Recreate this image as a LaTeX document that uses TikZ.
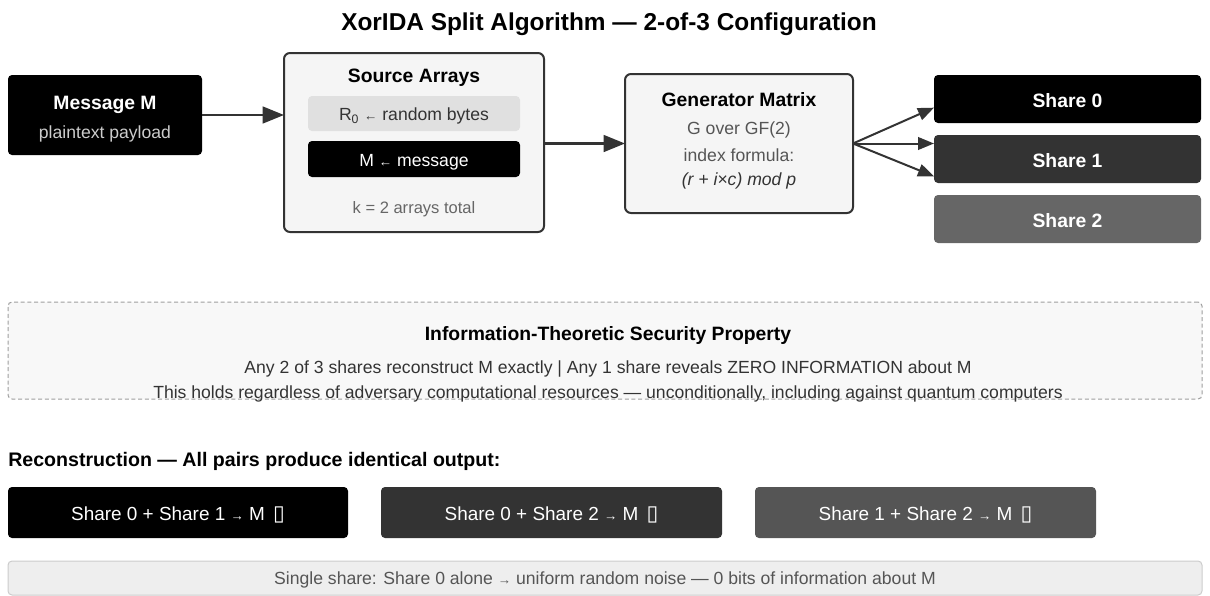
\documentclass[tikz,border=0pt]{standalone}
\usepackage{fontspec}
\setmainfont{Liberation Sans}
\newfontfamily\symfont{DejaVu Sans}
\usetikzlibrary{arrows.meta,fit,calc}

\definecolor{ink}{HTML}{000000}
\definecolor{dark}{HTML}{333333}
\definecolor{mid}{HTML}{555555}
\definecolor{grey}{HTML}{666666}
\definecolor{panel}{HTML}{F5F5F5}
\definecolor{rowgrey}{HTML}{E0E0E0}
\definecolor{softpanel}{HTML}{F8F8F8}
\definecolor{notepanel}{HTML}{EEEEEE}

\newcommand{\fs}[1]{\fontsize{#1}{#1}\selectfont}
\newcommand{\okmark}{\hspace{0.15em}{\symfont\fs{16}\char"25AF}}

\begin{document}
\begin{tikzpicture}[x=0.75pt,y=-0.75pt,
  area/.style={inner sep=0pt,outer sep=0pt,rounded corners=3pt},
  darkbox/.style={area,fill=#1},
  panelbox/.style={area,fill=panel,draw=dark,line width=1.5pt,rounded corners=4.5pt},
  txt/.style={inner sep=0pt,anchor=center,yshift=-1.5pt},
  title/.style={txt,font=\bfseries\fs{14.5}},
  body/.style={txt,font=\fs{13.2}},
  pairtxt/.style={txt,text=white,font=\fs{14.2}},
  flow/.style={draw=dark,line width=1.9pt,-{Triangle[length=16pt,width=12.5pt]}},
  fan/.style={draw=dark,line width=1.5pt,-{Triangle[length=12pt,width=9.5pt]}}
]
\useasboundingbox (0,0) rectangle (1210,596);

% heading
\node[txt,font=\bfseries\fs{18.3}] (head) at (609,22) {XorIDA Split Algorithm — 2-of-3 Configuration};

% message
\node[darkbox=ink,fit={(8,75)(202,155)}] (msg) {};
\node[title,text=white] (msgT) at (105,103) {Message M};
\node[body,text=ink!20] (msgS) at (105,132) {plaintext payload};

% source arrays
\node[panelbox,fit={(284,53)(544,232)}] (src) {};
\node[title] (srcT) at (414,76) {Source Arrays};
\node[area,fill=rowgrey,fit={(308,96)(520,131)}] (rrow) {};
\node[body,text=dark] (rrowT) at (414,114) {R\textsubscript{0} {\fs{10}←} random bytes};
\node[area,fill=ink,fit={(308,141)(520,177)}] (mrow) {};
\node[body,text=white] (mrowT) at (414,160) {M {\fs{10}←} message};
\node[txt,font=\fs{12.4},text=grey] (srcK) at (414,207) {k = 2 arrays total};

% generator matrix
\node[panelbox,fit={(625,74)(853,213)}] (gen) {};
\node[title] (genT) at (739,98) {Generator Matrix};
\node[body,text=mid] (genA) at (739,128) {G over GF(2)};
\node[body,text=mid] (genB) at (739,153) {index formula:};
\node[body,text=dark,font=\itshape\fs{13.2}] (genC) at (739,179) {(r + i×c) mod p};

% shares
\node[darkbox=ink,fit={(934,75)(1201,123)}] (s0) {};
\node[title,text=white] at (s0.center) (s0T) {Share 0};
\node[darkbox=dark,fit={(934,135)(1201,183)}] (s1) {};
\node[title,text=white] at (s1.center) (s1T) {Share 1};
\node[darkbox=grey,fit={(934,195)(1201,243)}] (s2) {};
\node[title,text=white] at (s2.center) (s2T) {Share 2};

% connectors
\draw[flow] (msg.east) -- (src.west |- msg.east);
\draw[flow] (src.east |- gen.west) -- (gen.west);
\draw[fan] (gen.east) -- ([yshift=-6.5pt]s0.west);
\draw[fan] (gen.east) -- (s1.west |- gen.east);
\draw[fan] (gen.east) -- ([yshift=-13pt]s1.west);

% security property
\node[area,fill=softpanel,draw=ink!38,dashed,line width=0.75pt,
      dash pattern=on 3pt off 2pt,fit={(8,302)(1202,399)}] (sec) {};
\node[title] (secT) at (608,333) {Information-Theoretic Security Property};
\node[body,text=dark] (secA) at (608,367) {Any 2 of 3 shares reconstruct M exactly | Any 1 share reveals ZERO INFORMATION about M};
\node[body,text=dark] (secB) at (608,392) {This holds regardless of adversary computational resources — unconditionally, including against quantum computers};

% reconstruction
\node[txt,anchor=west,font=\bfseries\fs{14.7}] (recT) at (8,459) {Reconstruction — All pairs produce identical output:};
\node[darkbox=ink,fit={(8,487)(348,538)}] (p1) {};
\node[pairtxt] at (p1.center) (p1T) {Share 0 + Share 1 {\fs{10}→} M \okmark};
\node[darkbox=dark,fit={(381,487)(722,538)}] (p2) {};
\node[pairtxt] at (p2.center) (p2T) {Share 0 + Share 2 {\fs{10}→} M \okmark};
\node[darkbox=mid,fit={(755,487)(1096,538)}] (p3) {};
\node[pairtxt] at (p3.center) (p3T) {Share 1 + Share 2 {\fs{10}→} M \okmark};

% single share note
\node[area,fill=notepanel,draw=ink!20,line width=0.75pt,fit={(8,561)(1202,595)}] (note) {};
\node[body,text=mid] at (note.center) (noteT) {Single share: Share 0 alone {\fs{10}→} uniform random noise — 0 bits of information about M};
\end{tikzpicture}
\end{document}
